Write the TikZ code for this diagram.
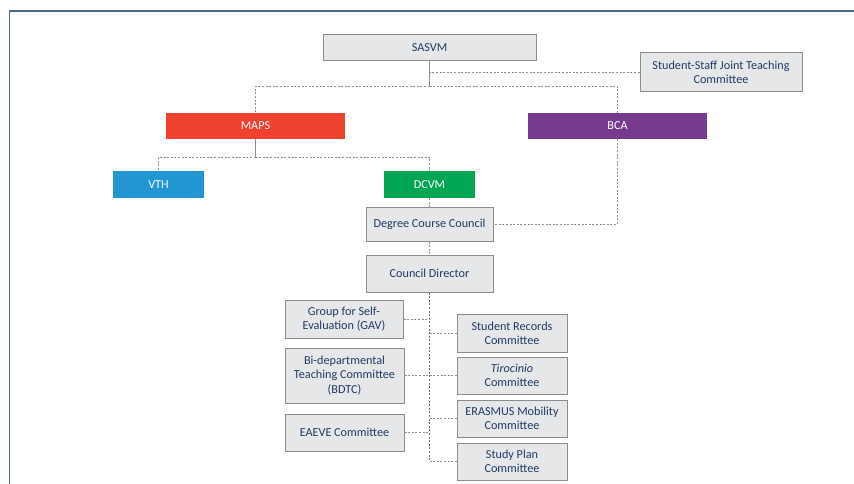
\documentclass[tikz,border=0pt]{standalone}
\usepackage{fontspec}
\setmainfont{Carlito}
\usetikzlibrary{positioning}
\definecolor{navy}{HTML}{1F3B64}
\definecolor{boxfill}{HTML}{E6E7E9}
\definecolor{boxline}{HTML}{8C8C8C}
\definecolor{linegray}{HTML}{8E8E8E}
\definecolor{trunkgray}{HTML}{6E6E6E}
\definecolor{mapsred}{HTML}{EE4130}
\definecolor{bcapurple}{HTML}{753A8E}
\definecolor{vthblue}{HTML}{2196D3}
\definecolor{dcvmgreen}{HTML}{00A651}
\definecolor{framecol}{HTML}{4A6688}

\begin{document}
\begin{tikzpicture}[x=1pt, y=-1pt,
                every node/.append style = {font=\fontsize{12.2}{14.2}\selectfont, inner sep=0pt},
                office/.style = {draw=boxline, line width=1pt, fill=boxfill, text=navy, align=center},
                unit/.style = {text=white, minimum height=26pt},
                link/.style = {draw=linegray, line width=0.9pt, dash pattern=on 2pt off 1.6pt},
                trunk/.style = {draw=trunkgray, line width=1.8pt, dash pattern=on 2pt off 1.6pt}]
            \useasboundingbox (0,0) rectangle (854,484);
            % frame
            \draw[framecol, line width=1.7pt] (9.5,484) -- (9.5,11) -- (854,11);

            % top level
            \node[office, minimum width=213pt, minimum height=26pt] (sasvm) at (429.5,48) {SASVM};
            \node[office, minimum width=162pt, minimum height=39pt] (ssjtc) at (721,72.5) {Student-Staff Joint Teaching\\Committee};
            \node[unit, fill=mapsred, minimum width=179pt] (maps) at (255.5,126) {MAPS};
            \node[unit, fill=bcapurple, minimum width=179pt] (bca) at (617.5,126) {BCA};
            \node[unit, fill=vthblue, minimum width=91pt, minimum height=27pt] (vth) at (158.5,184.5) {VTH};
            \node[unit, fill=dcvmgreen, minimum width=91pt, minimum height=27pt] (dcvm) at (429.5,184.5) {DCVM};
            \node[office, minimum width=127pt, minimum height=34pt] (dcc) at (429.5,224) {Degree Course Council};
            \node[office, minimum width=127pt, minimum height=37pt] (cdir) at (429.5,273.5) {Council Director};

            % committees
            \node[office, minimum width=118pt, minimum height=38pt] (gav) at (344,319) {Group for Self-\\Evaluation (GAV)};
            \node[office, minimum width=119pt, minimum height=55pt] (bdtc) at (344.5,375.5) {Bi-departmental\\Teaching Committee\\(BDTC)};
            \node[office, minimum width=119pt, minimum height=37pt] (eaeve) at (344.5,432.5) {EAEVE Committee};
            \node[office, minimum width=110pt, minimum height=38pt] (recs) at (512,333) {Student Records\\Committee};
            \node[office, minimum width=110pt, minimum height=37pt] (tiro) at (512,375.5) {\textit{Tirocinio}\\Committee};
            \node[office, minimum width=110pt, minimum height=37pt] (erasmus) at (512,418.5) {ERASMUS Mobility\\Committee};
            \node[office, minimum width=110pt, minimum height=37pt] (splan) at (512,461.5) {Study Plan\\Committee};

            \coordinate (top) at (429.5,86.5);
            \coordinate (mid) at (255.5,157);
            \coordinate (base) at (429.5,461.5);

            % connectors
            \draw[linegray, line width=1pt] (sasvm) -- (top);
            \draw[link] (top) -| (maps);
            \draw[link] (top) -| (bca);
            \draw[link] (ssjtc) -- (sasvm.south |- ssjtc.west);
            \draw[linegray, line width=1pt] (maps) -- (mid);
            \draw[link] (mid) -| (vth);
            \draw[link] (mid) -| (dcvm);
            \draw[link] (dcvm) -- (dcc);
            \draw[link] (bca) |- (dcc);
            \draw[link] (dcc) -- (cdir);
            \draw[trunk] (cdir) -- (base);
            \draw[link] (gav) -- (cdir.south |- gav.east);
            \draw[link] (cdir.south |- recs.west) -- (recs);
            \draw[link] (bdtc) -- (tiro);
            \draw[link] (eaeve) -- (cdir.south |- eaeve.east);
            \draw[link] (cdir.south |- erasmus.west) -- (erasmus);
            \draw[link] (base) -- (splan);
\end{tikzpicture}
\end{document}
